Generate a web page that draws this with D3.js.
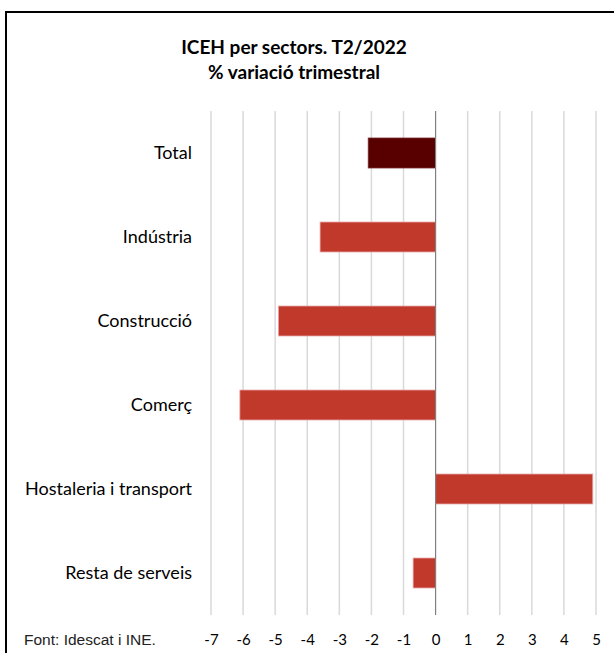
<!DOCTYPE html>
<html><head><meta charset="utf-8">
<script src="https://cdn.jsdelivr.net/npm/d3@7"></script>
<style>body{margin:0;background:#fff;}svg{display:block;}</style>
</head><body>
<svg id="chart" width="614" height="653"></svg>
<script>
const categories = ["Total","Indústria","Construcció","Comerç","Hostaleria i transport","Resta de serveis"];
const values = [-2.1,-3.6,-4.9,-6.1,4.9,-0.7];
const barColors = ["#580000","#c0392b","#c0392b","#c0392b","#c0392b","#c0392b"];
const tickValues = [-7,-6,-5,-4,-3,-2,-1,0,1,2,3,4,5];
const titleLines = ["ICEH per sectors. T2/2022","% variació trimestral"];
const sourceNote = "Font: Idescat i INE.";

const svg = d3.select("#chart");
const M = {left:211, right:596, top:111, bottom:615};
const x = d3.scaleLinear().domain([-7,5]).range([M.left,M.right]);
const y = d3.scaleBand().domain(categories).range([M.top,M.bottom]).paddingInner(0.643).paddingOuter(0.3215);

// frame
svg.append("rect").attr("x",6).attr("y",12).attr("width",640).attr("height",700)
  .attr("fill","none").attr("stroke","#000").attr("stroke-width",2);

// title
svg.append("g").selectAll("text").data(titleLines).join("text")
  .attr("x",294).attr("y",(d,i)=>54+i*25).attr("text-anchor","middle")
  .attr("font-family","Lato, 'Open Sans', sans-serif").attr("font-weight","bold")
  .attr("font-size",19).attr("fill","#000").text(d=>d);

// gridlines
svg.append("g").selectAll("line").data(tickValues.filter(d=>d!==0)).join("line")
  .attr("x1",d=>x(d)).attr("x2",d=>x(d)).attr("y1",M.top).attr("y2",M.bottom)
  .attr("stroke","#d9d9d9").attr("stroke-width",1.5);

// bars
svg.append("g").selectAll("rect").data(values).join("rect")
  .attr("x",d=>x(Math.min(0,d))).attr("width",d=>Math.abs(x(d)-x(0)))
  .attr("y",(d,i)=>y(categories[i])).attr("height",y.bandwidth())
  .attr("fill",(d,i)=>barColors[i])
  .attr("stroke",(d,i)=>i===0?"#7a2a2a":"#e8a8a8").attr("stroke-width",0.8);

// zero line
svg.append("line").attr("x1",x(0)).attr("x2",x(0)).attr("y1",M.top).attr("y2",M.bottom)
  .attr("stroke","#808080").attr("stroke-width",1.2);

// x axis labels
const xAxis = d3.axisBottom(x).tickValues(tickValues).tickSize(0).tickPadding(0)
  .tickFormat(d => String(d));
const gx = svg.append("g").attr("transform","translate(0,634)").call(xAxis);
gx.select(".domain").remove();
gx.selectAll("text").attr("font-family","Lato, 'Open Sans', sans-serif").attr("font-size",15).attr("fill","#000");

// y labels
const yAxis = d3.axisLeft(y).tickSize(0).tickPadding(0);
const gy = svg.append("g").attr("transform","translate(192,0)").call(yAxis);
gy.select(".domain").remove();
gy.selectAll("text").attr("font-family","Lato, 'Open Sans', sans-serif").attr("font-size",18).attr("fill","#000");

// source
svg.append("text").attr("x",24).attr("y",645).attr("font-family","'Liberation Sans', Arial, sans-serif")
  .attr("font-size",15.5).attr("fill","#222").text(sourceNote);
</script>
</body></html>
